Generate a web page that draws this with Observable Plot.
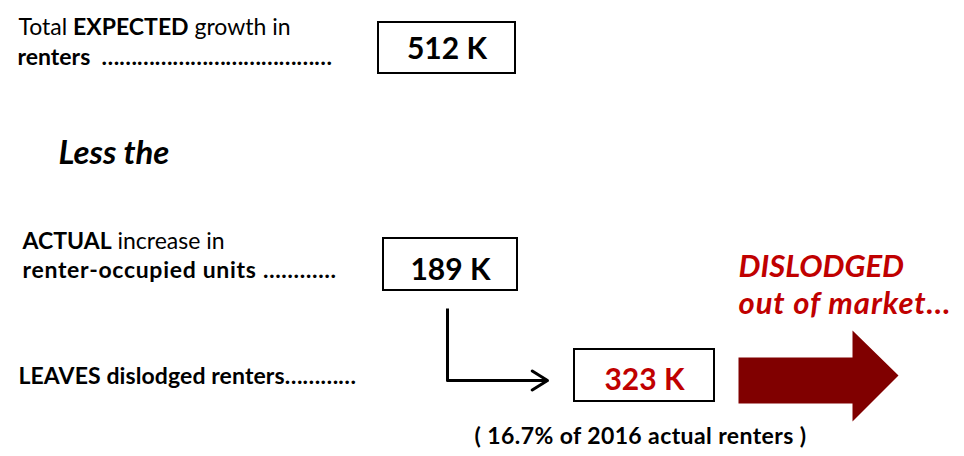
<!DOCTYPE html>
<html>
<head>
<meta charset="utf-8">
<script src="https://cdn.jsdelivr.net/npm/d3@7"></script>
<script src="https://cdn.jsdelivr.net/npm/@observablehq/plot@0.6"></script>
<style>
  html, body { margin: 0; padding: 0; background: #fff; }
  svg { display: block; }
</style>
</head>
<body>
<div id="chart"></div>
<script>
// ---- data ----
const stepNames = ["expected", "actual", "dislodged"];
const stepValues = [512, 189, 323];
const valueUnit = "K";
const shareOfRenters = 16.7;
const shareYear = 2016;
const labelParts = [
  [["Total ", 400], ["EXPECTED", 700], [" growth in", 400]],
  [["renters  …………………………………", 700]],
  [["ACTUAL", 700], [" increase in", 400]],
  [["renter-occupied units …………", 700]],
  [["LEAVES dislodged renters…………", 700]]
];
const lessText = "Less the";
const outcomeLines = ["DISLODGED", "out of market…"];

// ---- layout (positions / styles) ----
const FONT = "Lato, 'Open Sans', sans-serif";
const RED = "#c00000";
const DARKRED = "#800000";
const labelPos = [
  {x: 18, y: 34, size: 23, ls: 0},
  {x: 17, y: 64, size: 23, ls: 0},
  {x: 22, y: 248, size: 23, ls: 0},
  {x: 22, y: 277, size: 23, ls: 0.7},
  {x: 18, y: 383, size: 23, ls: 0.1}
];
const boxPos = [
  {x1: 378, y1: 22, x2: 515, y2: 73, ty: 58, color: "#000"},
  {x1: 383, y1: 238, x2: 517, y2: 290, ty: 279, color: "#000"},
  {x1: 574, y1: 349, x2: 714, y2: 401, ty: 389, color: RED}
];
const connector = [[447, 308], [447, 380], [547, 380]];
const bigArrow = [[738, 357], [852, 357], [852, 330], [898, 375], [852, 421], [852, 403], [738, 403], [738, 357]];
const outcomePos = [{y: 276, ls: 0}, {y: 313, ls: 0.9}];

const labels = labelParts.map((parts, i) => ({...labelPos[i], parts, plain: parts.map(p => p[0]).join("")}));
const boxes = stepNames.map((name, i) => ({name, value: stepValues[i], ...boxPos[i]}));
const outcomes = outcomeLines.map((text, i) => ({text, ...outcomePos[i]}));

const plot = Plot.plot({
  width: 964,
  height: 456,
  margin: 0,
  style: {fontFamily: FONT, background: "#fff"},
  x: {domain: [0, 964], range: [0, 964], axis: null},
  y: {domain: [0, 456], range: [0, 456], axis: null},
  marks: [
    Plot.text(labels, {x: "x", y: "y", text: "plain", textAnchor: "start", lineAnchor: "bottom",
      fontSize: 23, fill: "#000", className: "rich"}),
    Plot.text([lessText], {x: 58, y: 163, text: d => d, textAnchor: "start", lineAnchor: "bottom",
      fontSize: 33, fontWeight: 700, fontStyle: "italic", fill: "#000"}),
    Plot.rect(boxes, {x1: "x1", x2: "x2", y1: "y1", y2: "y2", fill: "#fff", stroke: "#000", strokeWidth: 2}),
    Plot.text(boxes, {x: d => (d.x1 + d.x2) / 2, y: "ty", text: d => `${d.value} ${valueUnit}`,
      fill: d => d.color, fontSize: 30, fontWeight: 700, lineAnchor: "bottom"}),
    Plot.line(connector, {x: d => d[0], y: d => d[1], stroke: "#000", strokeWidth: 3, strokeLinejoin: "miter", strokeLinecap: "butt"}),
    Plot.arrow([connector.slice(1)], {x1: d => d[0][0], y1: d => d[0][1], x2: d => d[1][0], y2: d => d[1][1],
      stroke: "#000", strokeWidth: 3, headLength: 9, headAngle: 64}),
    Plot.text([`( ${shareOfRenters}% of ${shareYear} actual renters )`], {x: 640, y: 443, text: d => d,
      fontSize: 23, fontWeight: 700, fill: "#000", lineAnchor: "bottom", className: "caption"}),
    Plot.line(bigArrow, {x: d => d[0], y: d => d[1], fill: DARKRED, stroke: "none"}),
    Plot.text(outcomes, {x: 738, y: "y", text: "text", textAnchor: "start", lineAnchor: "bottom",
      fontSize: 31, fontWeight: 700, fontStyle: "italic", fill: RED, className: "outcome"})
  ]
});

// rich text: mixed weights within a line
d3.select(plot).selectAll("g.rich text").each(function(_, i) {
  const d = labels[i];
  const t = d3.select(this);
  t.text(null).attr("font-size", d.size).attr("letter-spacing", d.ls);
  d.parts.forEach(([s, w]) => t.append("tspan").attr("font-weight", w).text(s));
});
d3.select(plot).selectAll("g.outcome text").attr("letter-spacing", (_, i) => outcomes[i].ls);
d3.select(plot).selectAll("g.caption text").attr("letter-spacing", 0.4);

document.getElementById("chart").appendChild(plot);
</script>
</body>
</html>
